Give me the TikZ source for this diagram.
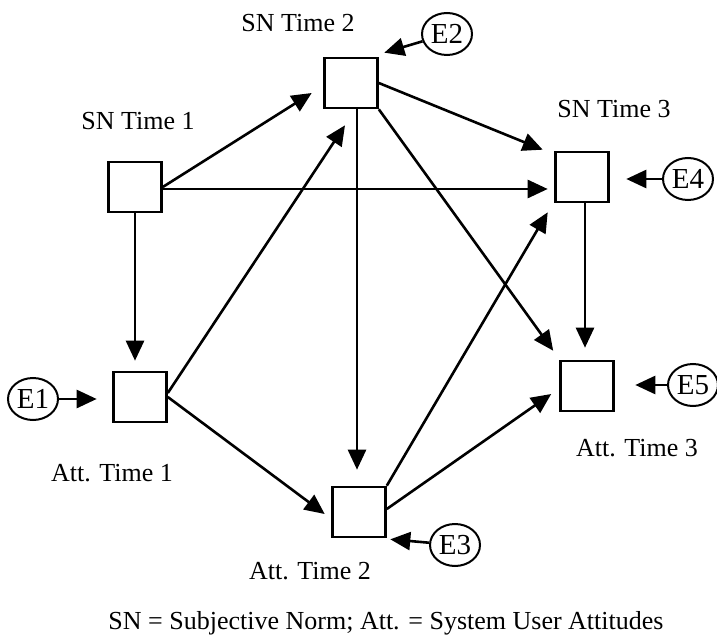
\documentclass[tikz,border=0pt]{standalone}
\usepackage{fontspec}
\setmainfont{Liberation Serif}
\usetikzlibrary{arrows.meta,calc,shapes.geometric}
\begin{document}
\begin{tikzpicture}[x=1pt,y=-1pt,
  box/.style={draw,line width=2.6pt,minimum width=53pt,minimum height=50pt,inner sep=0pt},
  err/.style={ellipse,draw,line width=2pt,minimum width=50pt,minimum height=42pt,inner sep=0pt,font=\fontsize{29}{30}\selectfont},
  lab/.style={anchor=base,font=\fontsize{26}{30}\selectfont,inner sep=0pt},
  arr/.style={line width=2.6pt,-{Triangle[length=20pt,width=18pt]}}]
\useasboundingbox (0,0) rectangle (717,636);
% boxes
\node[box] (sn1) at (135,187) {};
\node[box] (sn2) at (351,83) {};
\node[box] (sn3) at (582,177) {};
\node[box] (att1) at (140,397) {};
\node[box] (att2) at (359,512) {};
\node[box] (att3) at (587,386) {};
% error terms
\node[err] (e1) at (33,399) {E1};
\node[err] (e2) at (447,34) {E2};
\node[err] (e3) at (455,545) {E3};
\node[err] (e4) at (688,179) {E4};
\node[err] (e5) at (693,385) {E5};
% labels
\node[lab] (l1) at (138,130) {SN Time 1};
\node[lab] (l2) at (298,32) {SN Time 2};
\node[lab] (l3) at (614,118) {SN Time 3};
\node[lab] (l4) at (112,481) {Att. Time 1};
\node[lab] (l5) at (310,579) {Att. Time 2};
\node[lab] (l6) at (637,456) {Att. Time 3};
\node[lab] (cap) at (386,629) {SN = Subjective Norm; Att. = System User Attitudes};
% paths
\draw[arr] (sn1.east) -- ($(sn2.west)+(-11.5,10)$);
\draw[arr] ($(sn1.east)+(0,2)$) -- ($(sn3.west)+(-6.5,12)$);
\draw[arr] (sn1.south) -- ($(att1.north)+(-5,-10)$);
\draw[arr] ($(att1.east)+(0,-4)$) -- ($(sn2.south)+(-6,16)$);
\draw[arr] (att1.east) -- ($(att2.west)+(-6.5,2)$);
\draw[arr] ($(sn2.south)+(6,0)$) -- ($(att2.north)+(-2,-16)$);
\draw[arr] (sn2.east) -- ($(sn3.north west)+(-11.5,-1)$);
\draw[arr] (sn2.south east) -- ($(att3.north west)+(-6,-9)$);
\draw[arr] (att2.north east) -- ($(sn3.south west)+(-6.5,9)$);
\draw[arr] ($(att2.east)+(0,-3)$) -- ($(att3.west)+(-8,8)$);
\draw[arr] ($(sn3.south)+(3,0)$) -- ($(att3.north)+(-2,-12)$);
% error arrows
\draw[arr] (e2) -- ($(sn2.north east)+(5.5,-4)$);
\draw[arr] (e4) -- ($(sn3.east)+(16.5,2)$);
\draw[arr] (e1) -- ($(att1.west)+(-15.5,2)$);
\draw[arr] (e3) -- ($(att2.south east)+(3.5,1)$);
\draw[arr] (e5) -- ($(att3.east)+(20.5,-1)$);
\end{tikzpicture}
\end{document}
